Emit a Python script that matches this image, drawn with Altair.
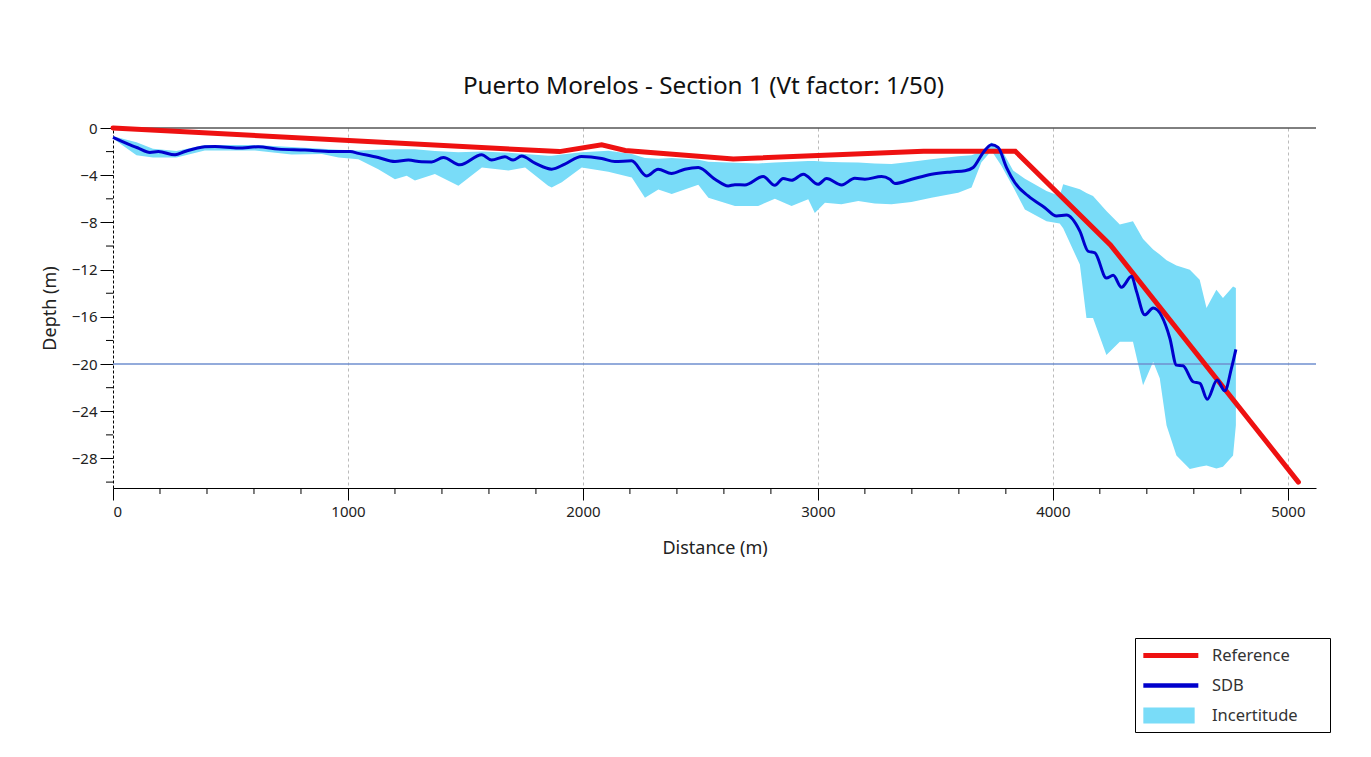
import altair as alt
import pandas as pd

# Reference profile
ref_dist = [0, 1900, 2080, 2180, 2640, 3450, 3840, 4245, 5045]
ref_depth = [0, -2.0, -1.42, -1.9, -2.62, -1.96, -1.96, -9.9, -30.0]

# SDB profile
sdb_dist = [0, 65, 108, 157, 193, 264, 306, 391, 434, 533, 618, 703, 817, 930, 1009, 1044,
            1129, 1200, 1257, 1313, 1356, 1406, 1477, 1569, 1611, 1668, 1703, 1739, 1796,
            1867, 1923, 1994, 2080, 2136, 2207, 2271, 2320, 2377, 2434, 2491, 2562, 2618,
            2647, 2689, 2767, 2817, 2852, 2888, 2938, 3001, 3037, 3101, 3157, 3200, 3271,
            3306, 3328, 3399, 3484, 3569, 3626, 3661, 3704, 3739, 3767, 3803, 3838, 3895,
            3966, 4016, 4058, 4115, 4150, 4179, 4228, 4257, 4292, 4335, 4356, 4391, 4427,
            4498, 4526, 4554, 4597, 4626, 4657, 4699, 4732, 4760, 4779]
sdb_depth = [-0.79, -1.36, -1.7, -2.07, -2.0, -2.27, -1.99, -1.59, -1.56, -1.7, -1.59, -1.79,
             -1.87, -1.99, -2.0, -2.15, -2.5, -2.84, -2.72, -2.86, -2.87, -2.5, -3.12, -2.27,
             -2.72, -2.44, -2.72, -2.38, -2.98, -3.49, -3.06, -2.41, -2.58, -2.84, -2.78,
             -4.06, -3.49, -3.86, -3.49, -3.35, -4.34, -4.91, -4.8, -4.82, -4.11, -4.85,
             -4.28, -4.43, -3.91, -4.77, -4.28, -4.82, -4.26, -4.34, -4.11, -4.34, -4.7,
             -4.34, -3.91, -3.72, -3.63, -3.35, -2.07, -1.42, -1.64, -3.35, -4.62, -5.76,
             -6.75, -7.46, -7.38, -8.74, -10.44, -10.58, -12.71, -12.48, -13.5, -12.57,
             -13.84, -15.83, -15.26, -17.81, -20.09, -20.14, -21.5, -21.64, -22.98, -21.36,
             -22.27, -20.37, -18.75]

# Uncertainty band
band_dist = [0, 100, 170, 270, 391, 604, 760, 889, 960, 1044, 1129, 1200, 1250, 1285, 1370,
             1470, 1570, 1683, 1754, 1852, 1867, 1910, 1995, 2108, 2208, 2264, 2321, 2378,
             2491, 2534, 2647, 2746, 2817, 2888, 2959, 2987, 3030, 3100, 3172, 3242, 3313,
             3398, 3483, 3597, 3654, 3696, 3739, 3781, 3831, 3881, 3973, 4029, 4044, 4115,
             4143, 4171, 4228, 4285, 4341, 4384, 4427, 4455, 4484, 4526, 4583, 4625, 4654,
             4696, 4724, 4767, 4779]
band_upper = [-0.7, -1.2, -1.75, -1.95, -1.45, -1.45, -1.6, -1.75, -1.85, -1.9, -1.85, -1.8,
              -1.8, -1.8, -1.95, -2.05, -2.0, -2.1, -2.2, -2.35, -2.35, -2.25, -2.05, -1.93,
              -2.2, -2.55, -2.6, -2.55, -2.7, -2.85, -2.95, -3.0, -2.92, -2.85, -2.8, -2.8,
              -2.85, -2.9, -2.92, -3.0, -3.06, -2.85, -2.64, -2.4, -2.3, -2.0, -1.22, -1.8,
              -3.6, -4.3, -5.33, -5.76, -4.77, -5.19, -5.5, -5.76, -7.04, -8.17, -7.89, -9.4,
              -10.3, -10.72, -11.2, -11.65, -12.0, -12.85, -15.26, -13.7, -14.41, -13.42,
              -13.56]
band_lower = [-0.9, -2.3, -2.5, -2.5, -1.9, -1.9, -2.25, -2.2, -2.5, -2.65, -3.5, -4.35,
              -4.05, -4.45, -3.9, -4.9, -3.35, -3.6, -3.35, -4.9, -5.05, -4.6, -3.35, -3.7,
              -4.2, -5.9, -5.2, -5.6, -4.8, -5.9, -6.6, -6.6, -6.0, -6.6, -6.04, -7.2, -6.33,
              -6.47, -6.19, -6.4, -6.47, -6.26, -5.9, -5.48, -5.05, -2.9, -1.93, -3.2, -5.0,
              -6.9, -7.9, -8.1, -8.5, -11.57, -16.1, -16.1, -19.23, -18.1, -18.1, -21.8,
              -19.8, -21.2, -25.2, -27.74, -28.88, -28.7, -28.6, -28.85, -28.7, -27.74,
              -25.19]

series_names = ["Reference", "SDB", "Incertitude"]
series_colors = ["#ee1111", "#0000cc", "#79dcf8"]
series_shapes = ["M-1,-0.27L5,-0.27L5,0.27L-1,0.27Z",
                 "M-1,-0.24L5,-0.24L5,0.24L-1,0.24Z",
                 "M-1,-0.87L4.6,-0.87L4.6,0.87L-1,0.87Z"]

x_major = [0, 1000, 2000, 3000, 4000, 5000]
x_minor = [v for v in range(200, 5001, 200) if v % 1000 != 0]
y_major = [-28, -24, -20, -16, -12, -8, -4, 0]
y_minor = [-30, -26, -22, -18, -14, -10, -6, -2]

FONT = "Noto Sans"
TXT = "#222222"

ref_df = pd.DataFrame({"dist": ref_dist, "depth": ref_depth})
sdb_df = pd.DataFrame({"dist": sdb_dist, "depth": sdb_depth})
band_df = pd.DataFrame({"dist": band_dist, "upper": band_upper, "lower": band_lower})
leg_df = pd.DataFrame({"series": series_names})

xscale = alt.Scale(domain=[0, 5120], nice=False, zero=False)
yscale = alt.Scale(domain=[-30.5, 0], nice=False, zero=False)

x_axis = alt.Axis(
    title="Distance (m)", values=x_major, tickSize=12,
    grid=True, gridDash=[3, 3], gridColor="#bbbbbb",
    gridOpacity={"expr": "datum.value > 0 ? 1 : 0"},
    domainColor="black", tickColor="black", labelFont=FONT, titleFont=FONT,
    labelFontSize=15, titleFontSize=18, labelColor=TXT, titleColor=TXT,
    titleFontWeight="normal", labelPadding=4, titlePadding=20, format="d",
)
y_axis = alt.Axis(
    title="Depth (m)", values=y_major, tickSize=13,
    grid=False, domainDash=[3, 2], domainColor="black", tickColor="black",
    labelFont=FONT, titleFont=FONT, labelFontSize=15, titleFontSize=18,
    labelColor=TXT, titleColor=TXT, titleFontWeight="normal",
    labelPadding=3, titlePadding=12, format="d",
)

band = alt.Chart(band_df).mark_area(color="#79dcf8", opacity=1).encode(
    x=alt.X("dist:Q", scale=xscale, axis=x_axis),
    y=alt.Y("lower:Q", scale=yscale, axis=y_axis),
    y2="upper:Q",
)

x_minor_ticks = alt.Chart(pd.DataFrame({"v": x_minor})).mark_rule(color="black", strokeWidth=1).encode(
    x=alt.X("v:Q", scale=xscale), y=alt.value(360), y2=alt.value(366)
)
y_minor_ticks = alt.Chart(pd.DataFrame({"v": y_minor})).mark_rule(color="black", strokeWidth=1).encode(
    y=alt.Y("v:Q", scale=yscale), x=alt.value(-7), x2=alt.value(0)
)

rule20 = alt.Chart(pd.DataFrame({"v": [-20]})).mark_rule(color="#6f8fcf", strokeWidth=1.5).encode(
    y=alt.Y("v:Q", scale=yscale)
)
rule0 = alt.Chart(pd.DataFrame({"v": [0]})).mark_rule(color="black", strokeWidth=1).encode(
    y=alt.Y("v:Q", scale=yscale)
)

ref_line = alt.Chart(ref_df).mark_line(color="#ee1111", strokeWidth=5, strokeCap="round").encode(
    x=alt.X("dist:Q", scale=xscale), y=alt.Y("depth:Q", scale=yscale)
)
sdb_line = alt.Chart(sdb_df).mark_line(color="#0000cc", strokeWidth=3, interpolate="monotone").encode(
    x=alt.X("dist:Q", scale=xscale), y=alt.Y("depth:Q", scale=yscale)
)

legend = alt.Legend(
    title=None, orient="none", legendX=1022, legendY=510,
    strokeColor="black", fillColor="white", padding=8,
    labelFont=FONT, labelFontSize=16.5, labelColor="#333333",
    symbolSize=336, labelOffset=50, rowPadding=12, symbolOpacity=1,
    symbolStrokeWidth=0, labelExpr="datum.label + '\u2800\u2800'",
)
leg_layer = alt.Chart(leg_df).mark_point(filled=True, opacity=0).encode(
    color=alt.Color("series:N", scale=alt.Scale(domain=series_names, range=series_colors), legend=legend),
    shape=alt.Shape("series:N", scale=alt.Scale(domain=series_names, range=series_shapes), legend=legend),
)

chart = alt.layer(band, rule20, rule0, x_minor_ticks, y_minor_ticks, ref_line, sdb_line, leg_layer).properties(
    width=1203, height=360, background="white",
    title=alt.TitleParams("Puerto Morelos - Section 1 (Vt factor: 1/50)", font=FONT,
                          fontSize=24.3, fontWeight="normal", color="#111111", offset=19,
                          anchor="middle", dx=-11),
    autosize=alt.AutoSizeParams(type="none"),
    padding={"left": 105, "top": 120, "right": 40, "bottom": 262},
).configure_view(stroke=None)

chart.save("out.html", embed_options={"renderer": "svg", "actions": False})
